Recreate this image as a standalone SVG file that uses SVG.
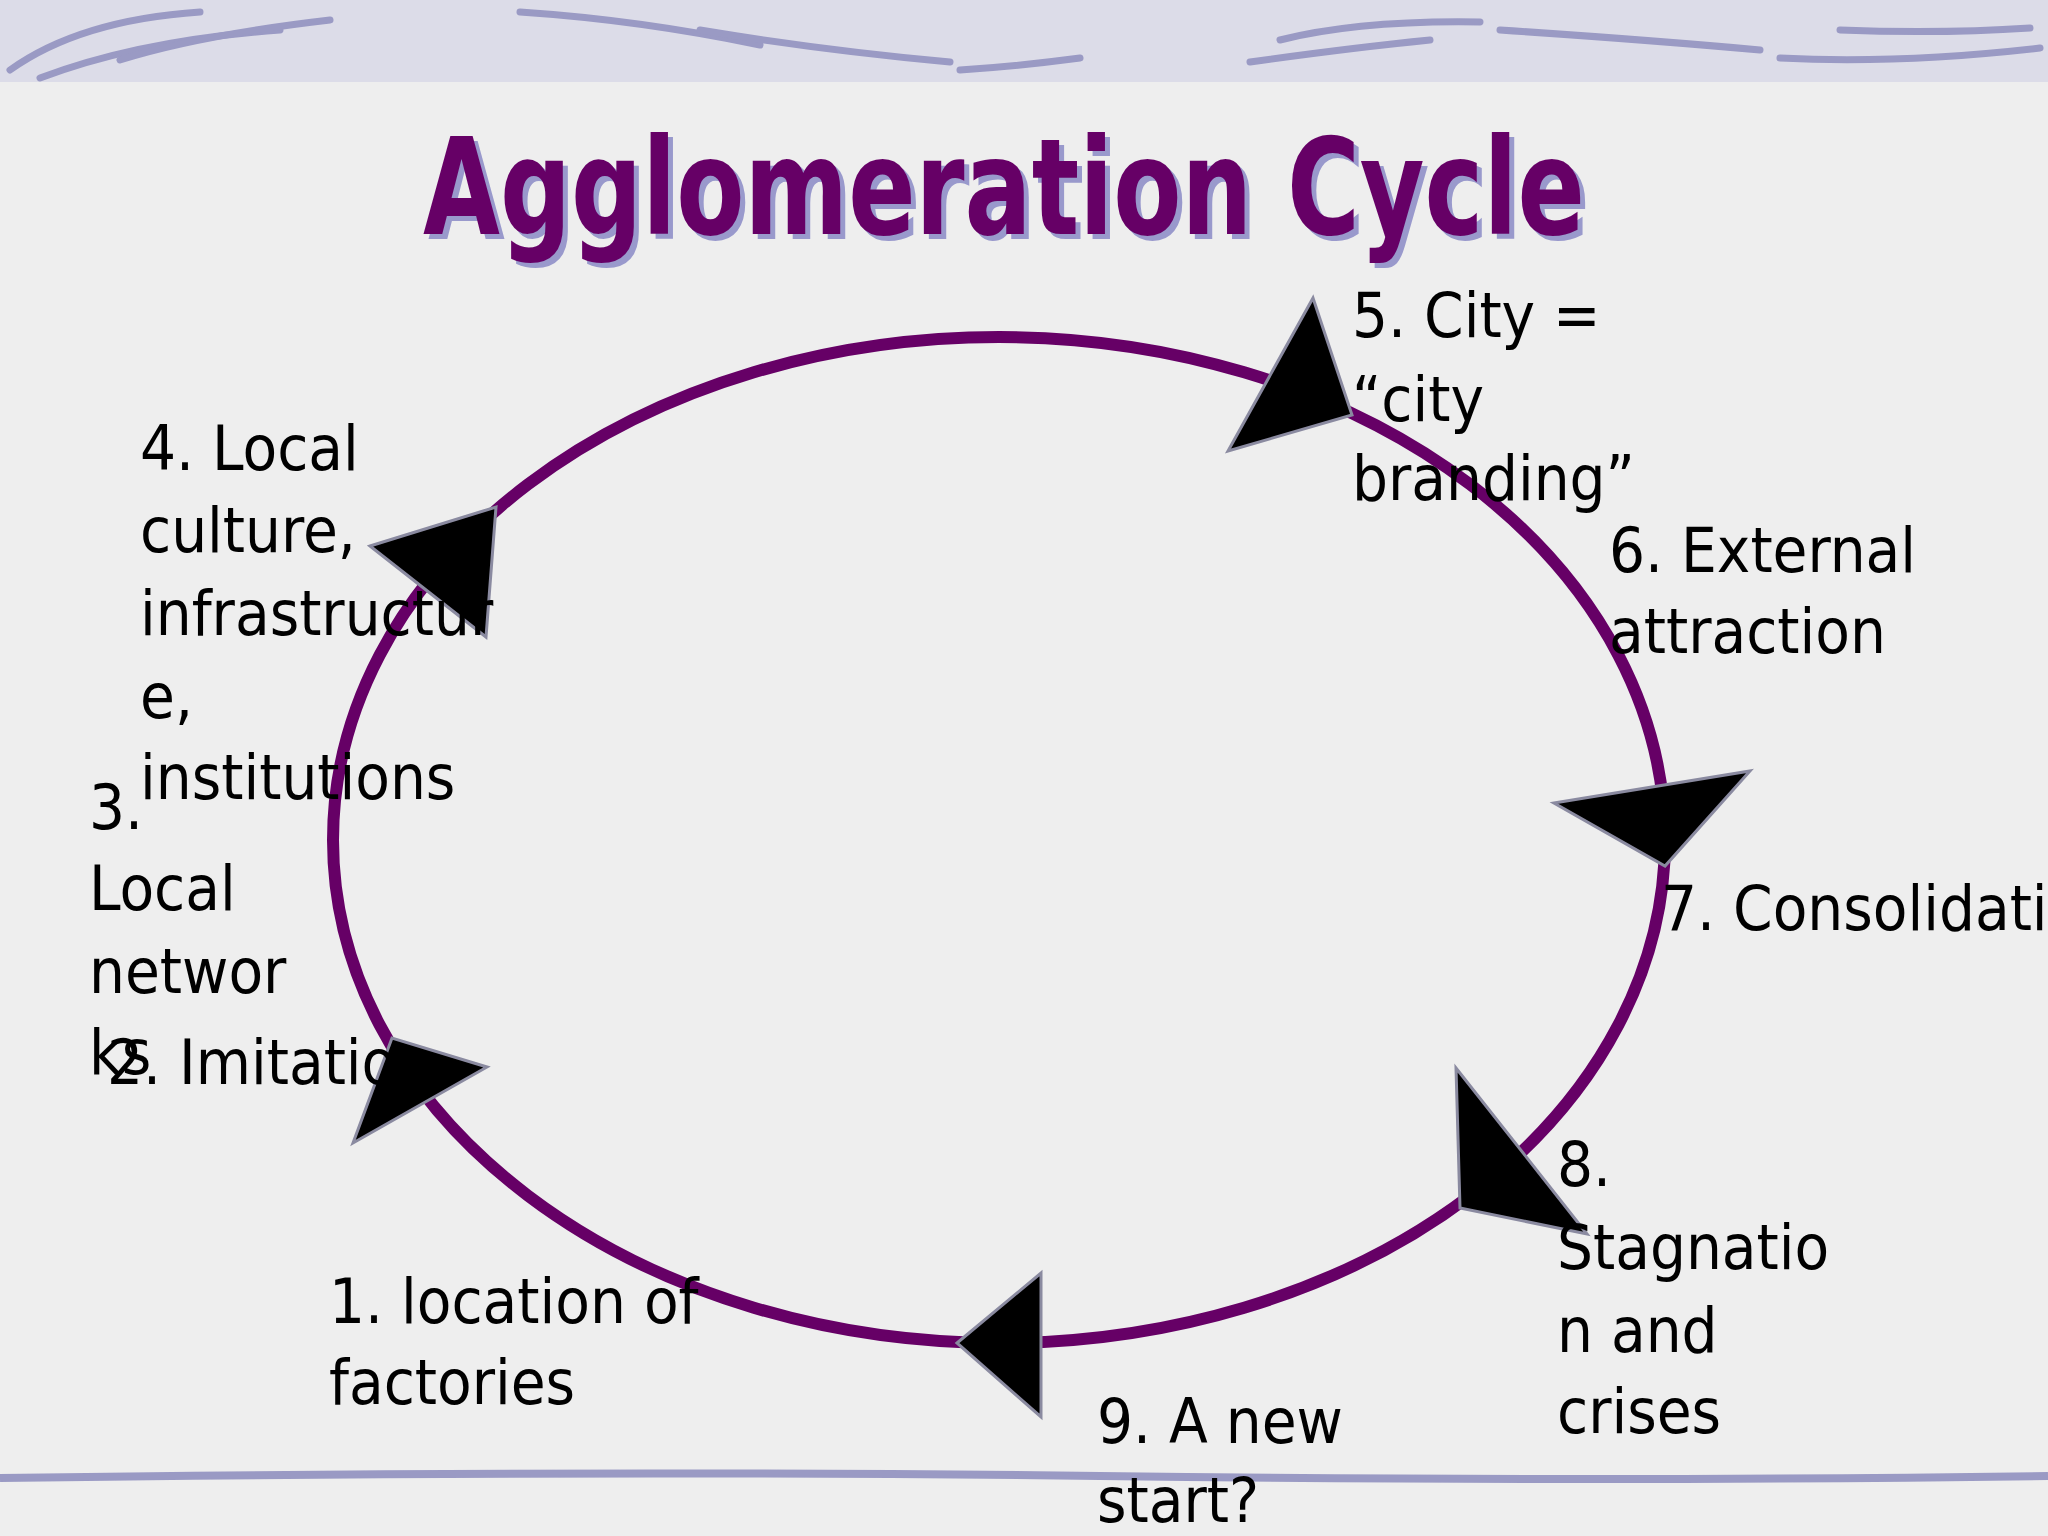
<svg xmlns="http://www.w3.org/2000/svg" width="2048" height="1536" viewBox="0 0 2048 1536">
<style>
.t{font-family:"DejaVu Sans Condensed","DejaVu Sans",sans-serif;font-size:63px;fill:#000}
.ah{fill:#000;stroke:#8a8aa0;stroke-width:3;stroke-linejoin:miter}
.sw{fill:none;stroke:#9a9ac4;stroke-width:7;stroke-linecap:round}
</style>
<rect width="2048" height="1536" fill="#eeeeee"/>
<rect width="2048" height="82" fill="#dcdce8"/>
<g class="sw">
<path d="M10 70 Q80 20 200 12"/><path d="M40 78 Q140 40 280 30"/><path d="M120 60 Q200 35 330 20"/>
<path d="M520 12 Q640 20 760 45"/><path d="M700 30 Q820 50 950 62"/><path d="M960 70 Q1020 66 1080 58"/>
<path d="M1280 40 Q1360 20 1480 22"/><path d="M1250 62 Q1350 48 1430 40"/><path d="M1500 30 Q1650 40 1760 50"/>
<path d="M1780 58 Q1900 64 2040 48"/><path d="M1840 30 Q1940 34 2030 28"/>
</g>
<path d="M0 1478 Q600 1470 1100 1476 T2048 1476" stroke="#9a9ac4" stroke-width="8" fill="none"/>
<g id="title">
<text x="1009" y="239" text-anchor="middle" textLength="1162" lengthAdjust="spacingAndGlyphs" font-family="DejaVu Sans Condensed,sans-serif" font-weight="bold" font-size="134" fill="#9999cc">Agglomeration Cycle</text>
<text x="1004" y="234" text-anchor="middle" textLength="1162" lengthAdjust="spacingAndGlyphs" font-family="DejaVu Sans Condensed,sans-serif" font-weight="bold" font-size="134" fill="#660066">Agglomeration Cycle</text>
</g>
<g id="connectors">
<ellipse cx="999" cy="840" rx="666" ry="503" fill="none" stroke="#660066" stroke-width="12"/>
<polygon class="ah" points="1313,298 1228,451 1352,415"/>
<polygon class="ah" points="370,546 496,507 486,637"/>
<polygon class="ah" points="1554,803 1750,771 1665,866"/>
<polygon class="ah" points="353,1143 392,1038 487,1067"/>
<polygon class="ah" points="1456,1068 1460,1208 1587,1234"/>
<polygon class="ah" points="957,1343 1041,1273 1041,1417"/>
</g>
<g id="n5"><text class="t" x="1352" y="337">5. City =</text><text class="t" x="1352" y="421">“city</text><text class="t" x="1352" y="500">branding”</text></g>
<g id="n4"><text class="t" x="140" y="470">4. Local</text><text class="t" x="140" y="552">culture,</text><text class="t" x="140" y="635">infrastructur</text><text class="t" x="140" y="718">e,</text><text class="t" x="140" y="799">institutions</text></g>
<g id="n6"><text class="t" x="1609" y="572">6.  External</text><text class="t" x="1609" y="653">attraction</text></g>
<g id="n3"><text class="t" x="89" y="829">3.</text><text class="t" x="89" y="910">Local</text><text class="t" x="89" y="993">networ</text><text class="t" x="89" y="1074">ks</text></g>
<g id="n2"><text class="t" x="107" y="1084">2. Imitation</text></g>
<g id="n7"><text class="t" x="1661" y="930">7. Consolidation</text></g>
<g id="n8"><text class="t" x="1557" y="1186">8.</text><text class="t" x="1557" y="1269">Stagnatio</text><text class="t" x="1557" y="1352">n and</text><text class="t" x="1557" y="1433">crises</text></g>
<g id="n1"><text class="t" x="329" y="1323">1. location of</text><text class="t" x="329" y="1404">factories</text></g>
<g id="n9"><text class="t" x="1097" y="1443">9. A new</text><text class="t" x="1097" y="1522">start?</text></g>
</svg>
